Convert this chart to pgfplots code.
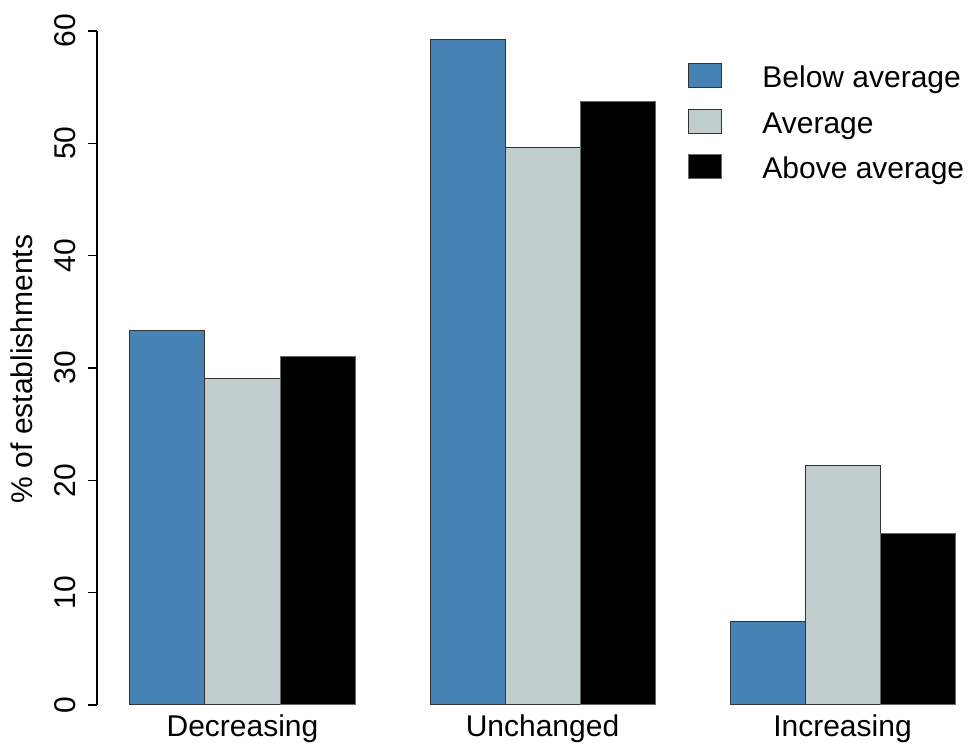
\documentclass[border=0pt]{standalone}
\usepackage{fontspec}
\setmainfont{Liberation Sans}
\usepackage{pgfplots}
\pgfplotsset{compat=1.18}
\definecolor{barblue}{HTML}{4682B4}
\definecolor{bargray}{HTML}{C1CDCD}
\begin{document}
\begin{tikzpicture}
\useasboundingbox (0,0) rectangle (484.5pt,373.5pt);
\begin{axis}[
  at={(48.5pt,21pt)}, anchor=south west,
  scale only axis, width=435pt, height=352pt,
  xmin=0.56, xmax=12.16, ymin=0, ymax=62.67,
  clip=false,
  ybar, bar shift=0pt, bar width=37.5pt,
  axis lines*=left,
  axis line style={draw=none},
  font=\fontsize{15}{18}\selectfont,
  /pgf/number format/assume math mode=true,
  ytick={0,10,...,60},
  ytick pos=left,
  tick align=outside,
  major tick length=4.5pt,
  y tick style={black, line width=0.6pt},
  y tick label style={rotate=90, anchor=base, inner sep=0pt, yshift=6pt},
  xtick={2.5,6.5,10.5},
  xticklabels={Decreasing,Unchanged,Increasing},
  x tick style={draw=none},
  x tick label style={anchor=north, inner sep=0pt},
  ylabel={\% of establishments},
  every axis y label/.style={at={(axis description cs:-0.0736,0.4773)}, rotate=90, anchor=base},
  legend style={draw=none, fill=none, inner sep=0pt,
    at={(axis description cs:0.6793,0.9119)}, anchor=north west,
    row sep=7pt,
    nodes={inner sep=0pt, text height=12pt, text depth=3.5pt, anchor=base west},
    /tikz/every odd column/.append style={column sep=20pt}},
  legend cell align=left,
  legend image code/.code={\draw[#1] (0pt,0pt) rectangle (16.5pt,12pt);},
]
\addplot[fill=barblue, draw=black!80, line width=0.5pt] coordinates {(1.5,33.3) (5.5,59.2) (9.5,7.4)};
\addplot[fill=bargray, draw=black!80, line width=0.5pt] coordinates {(2.5,29.1) (6.5,49.6) (10.5,21.3)};
\addplot[fill=black, draw=black!60, line width=0.5pt] coordinates {(3.5,31.0) (7.5,53.7) (11.5,15.3)};
\legend{Below average, Average, Above average}
\draw[black, line width=0.6pt] (axis cs:0.56,0) -- (axis cs:0.56,60);
\end{axis}
\end{tikzpicture}
\end{document}
